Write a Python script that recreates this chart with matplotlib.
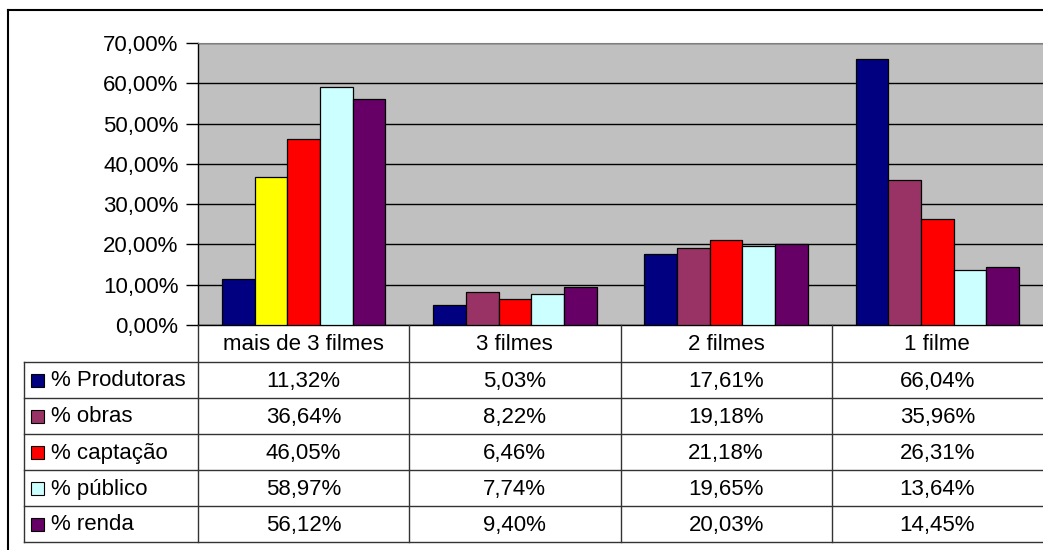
import matplotlib.pyplot as plt
from matplotlib.lines import Line2D
from matplotlib.patches import Rectangle
import numpy as np

plt.rcParams['font.family'] = ['Liberation Sans', 'DejaVu Sans']

categorias = ['mais de 3 filmes', '3 filmes', '2 filmes', '1 filme']
series = ['% Produtoras', '% obras', '% captação', '% público', '% renda']
produtoras = [11.32, 5.03, 17.61, 66.04]
obras = [36.64, 8.22, 19.18, 35.96]
captacao = [46.05, 6.46, 21.18, 26.31]
publico = [58.97, 7.74, 19.65, 13.64]
renda = [56.12, 9.40, 20.03, 14.45]
valores = [produtoras, obras, captacao, publico, renda]

cores = ['#000080', '#993366', '#FF0000', '#CCFFFF', '#660066']
# the first "obras" bar was recoloured yellow in the original sheet
cor_destaque = {(1, 0): '#FFFF00'}

W, H = 1043, 550
fig = plt.figure(figsize=(W / 100, H / 100), dpi=100)
fs = 16

# bar axes, placed in pixels
x0, x1, ytop, ybot = 198, 1043, 43, 325
ax = fig.add_axes([x0 / W, 1 - ybot / H, (x1 - x0) / W, (ybot - ytop) / H])
ax.set_facecolor('#C0C0C0')

n = len(series)
w = 0.155
x = np.arange(len(categorias))
for j, (nome, vals) in enumerate(zip(series, valores)):
    cs = [cor_destaque.get((j, i), cores[j]) for i in range(len(vals))]
    ax.bar(x + (j - (n - 1) / 2) * w, vals, width=w, color=cs,
           edgecolor='black', linewidth=0.9, zorder=3)

ax.set_xlim(-0.5, len(categorias) - 0.5)
ax.set_ylim(0, 70)
ax.set_yticks(np.arange(0, 71, 10))
ax.set_yticklabels([('%.2f%%' % v).replace('.', ',') for v in np.arange(0, 71, 10)],
                   fontsize=fs)
ax.set_xticks([])
ax.tick_params(axis='y', length=9, width=1, pad=5)
ax.yaxis.grid(True, color='black', linewidth=1, zorder=1)
ax.set_axisbelow(True)
ax.spines['top'].set_color('#808080')
ax.spines['right'].set_visible(False)
ax.spines['left'].set_linewidth(1)
ax.spines['bottom'].set_linewidth(1)

# overlay for the data table, pixel coordinates, y from top
ov = fig.add_axes([0, 0, 1, 1], zorder=5)
ov.set_xlim(0, W)
ov.set_ylim(H, 0)
ov.axis('off')
ov.patch.set_alpha(0)

fig.canvas.draw()
bounds = [ax.transData.transform((i - 0.5, 0))[0] for i in range(len(categorias) + 1)]
leg_left = 24
row_h = 36
header_bot = 362
rows_y = [header_bot + k * row_h for k in range(n + 1)]
tab_bot = rows_y[-1]
lc = '#333333'

# horizontal table lines
for yy in rows_y:
    ov.add_line(Line2D([leg_left, W], [yy, yy], color=lc, lw=1))
# vertical table lines
ov.add_line(Line2D([leg_left, leg_left], [header_bot, tab_bot], color=lc, lw=1))
for b in bounds[:-1]:
    ov.add_line(Line2D([b, b], [ybot, tab_bot], color=lc, lw=1))

# header row
for i, c in enumerate(categorias):
    cx = (bounds[i] + bounds[i + 1]) / 2
    ov.text(cx, (ybot + header_bot) / 2 + 1, c, ha='center', va='center', fontsize=fs)

# series rows
sq = 13
for j, (nome, vals) in enumerate(zip(series, valores)):
    cy = (rows_y[j] + rows_y[j + 1]) / 2
    ov.add_patch(Rectangle((31, cy - sq / 2), sq, sq, facecolor=cores[j],
                           edgecolor='black', lw=0.8))
    ov.text(51, cy + 1, nome, ha='left', va='center', fontsize=fs)
    for i, v in enumerate(vals):
        cx = (bounds[i] + bounds[i + 1]) / 2
        ov.text(cx, cy + 1, ('%.2f%%' % v).replace('.', ','), ha='center',
                va='center', fontsize=fs)

# outer chart border (right and bottom fall outside the picture)
ov.add_line(Line2D([8, 8], [10, H], color='black', lw=1.5))
ov.add_line(Line2D([8, W], [10, 10], color='black', lw=1.5))

fig.savefig('out.png', dpi=100)
